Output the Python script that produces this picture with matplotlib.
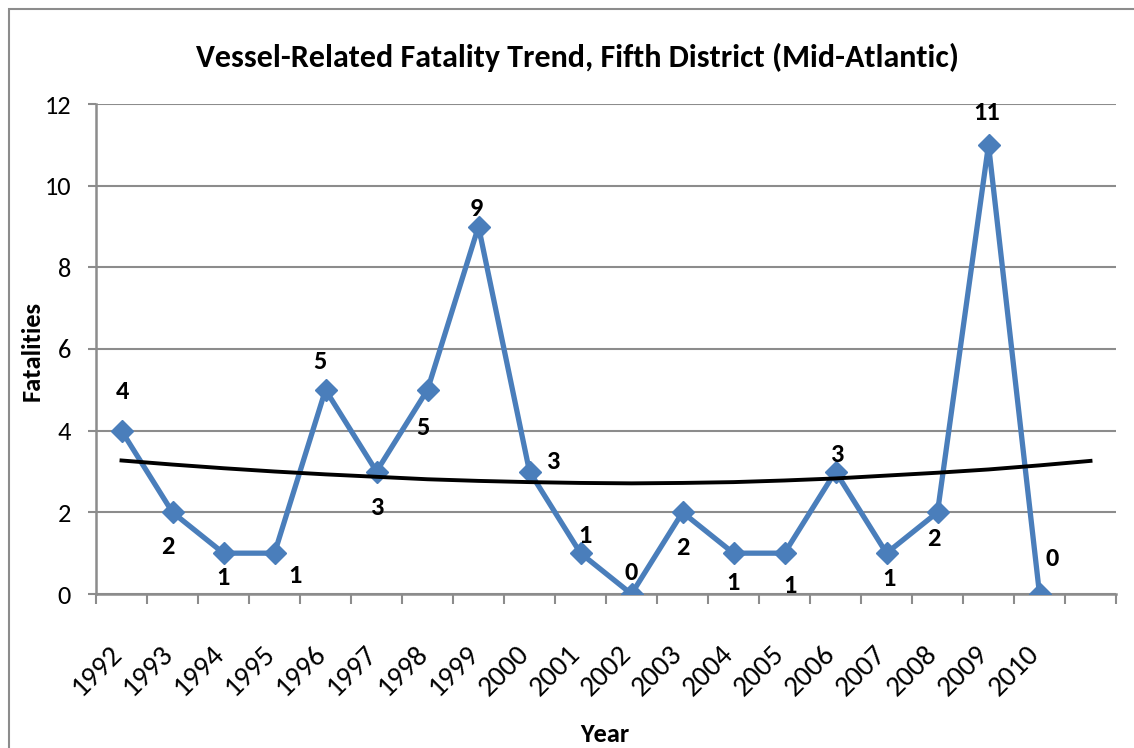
import numpy as np
import matplotlib.pyplot as plt
from matplotlib.patches import Rectangle
from matplotlib.transforms import ScaledTranslation

plt.rcParams['font.family'] = ['Carlito', 'Lato', 'DejaVu Sans']

TITLE = "Vessel-Related Fatality Trend, Fifth District (Mid-Atlantic)"
years = ["1992", "1993", "1994", "1995", "1996", "1997", "1998", "1999", "2000",
         "2001", "2002", "2003", "2004", "2005", "2006", "2007", "2008", "2009", "2010"]
fatalities = [4, 2, 1, 1, 5, 3, 5, 9, 3, 1, 0, 2, 1, 1, 3, 1, 2, 11, 0]
# polynomial trendline as drawn, one value per category slot incl. forecast
trend = [3.27, 3.17, 3.08, 3.00, 2.93, 2.87, 2.81, 2.77, 2.74, 2.72,
         2.71, 2.72, 2.74, 2.78, 2.83, 2.90, 2.97, 3.05, 3.15, 3.26]

# label placement (pixels from the marker), hand tuned like the original
label_offsets = [(1, 39), (-5, -34), (-1, -24), (20, -22), (-6, 28), (0, -36), (-5, -38),
                 (-2, 18), (23, 10), (4, 18), (0, 21), (0, -35), (-1, -29), (5, -32),
                 (1, 17), (2, -25), (-4, -26), (-2, 32), (13, 35)]

BLUE = "#4A7EBB"
GRID = "#8C8C8C"
FONT_TICK = 19
FONT_LABEL = 19

fig = plt.figure(figsize=(11.34, 7.48), dpi=100)
fig.patches.append(Rectangle((9 / 1134, -0.1), 1.2, 1 - 9 / 748 + 0.1, transform=fig.transFigure,
                             fill=False, edgecolor="#8C8C8C", linewidth=1.5))
ax = fig.add_axes([96 / 1134, 1 - 594 / 748, 1020 / 1134, 490 / 748])

x = np.arange(len(years))
ax.plot(x, fatalities, color=BLUE, linewidth=3.8, marker="D", markersize=11, zorder=3)
ax.plot(np.arange(len(trend)), trend, color="black", linewidth=2.8, zorder=4)

for xi, v, (dx, dy) in zip(x, fatalities, label_offsets):
    ax.annotate(str(v), (xi, v), xytext=(dx, dy), textcoords="offset pixels",
                ha="center", va="center", fontsize=FONT_LABEL, fontweight="bold", zorder=5)

ax.set_xlim(-0.5, 19.5)
ax.set_ylim(0, 12)
ax.set_yticks(range(0, 13, 2))
ax.yaxis.grid(True, color=GRID, linewidth=1.5)
ax.set_axisbelow(True)

ax.set_xticks(np.arange(-0.5, 20, 1))
ax.set_xticklabels([])
ax.set_xticks(x, minor=True)
ax.set_xticklabels(years, minor=True, rotation=45, ha="right", va="center",
                   rotation_mode="anchor", fontsize=FONT_TICK + 2)
ax.tick_params(axis="x", which="minor", length=0, pad=30)
ax.tick_params(axis="x", which="major", length=7, width=1.5, color=GRID)
ax.tick_params(axis="y", length=6, width=1.5, color=GRID, pad=12, labelsize=FONT_TICK)
shift = ScaledTranslation(-4 / 100, -14 / 100, fig.dpi_scale_trans)
for lab in ax.get_xticklabels(minor=True):
    lab.set_transform(lab.get_transform() + shift)

for s in ["top", "right"]:
    ax.spines[s].set_visible(False)
for s in ["left", "bottom"]:
    ax.spines[s].set_color(GRID)
    ax.spines[s].set_linewidth(1.8)

fig.text(577 / 1134, 1 - 57 / 748, TITLE, ha="center", va="center", fontsize=23, fontweight="bold")
fig.text(605 / 1134, 1 - 735 / 748, "Year", ha="center", va="center", fontsize=FONT_LABEL, fontweight="bold")
fig.text(32 / 1134, 1 - 351 / 748, "Fatalities", ha="center", va="center", rotation=90,
         fontsize=FONT_LABEL, fontweight="bold")

fig.savefig("out.png", dpi=100)
